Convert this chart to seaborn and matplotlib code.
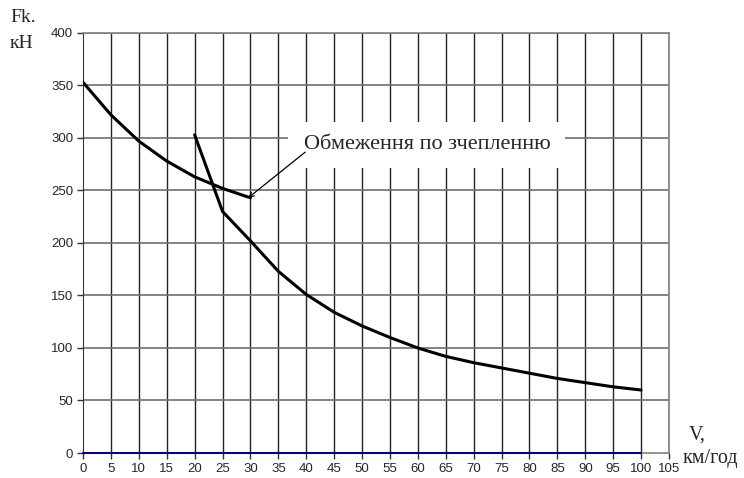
import matplotlib
matplotlib.use("Agg")
import matplotlib.pyplot as plt
from matplotlib.patches import Rectangle
import seaborn as sns
import pandas as pd

# Adhesion limit curve
v_adh = [0, 5, 10, 15, 20, 25, 30]
f_adh = [353, 322, 297, 278, 263, 252, 243]

# Traction curve
v_tr = [20, 25, 30, 35, 40, 45, 50, 55, 60, 65, 70, 75, 80, 85, 90, 95, 100]
f_tr = [303, 230, 202, 173, 151, 134, 121, 110, 100, 92, 86, 81, 76, 71, 67, 63, 60]

# Zero series
v_zero = [0, 100]
f_zero = [0, 0]

x_ticks = list(range(0, 106, 5))
y_ticks = list(range(0, 401, 50))

sns.set_style("white")
plt.rcParams['font.family'] = ['Liberation Sans', 'DejaVu Sans']

fig = plt.figure(figsize=(7.44, 4.78), dpi=100)
ax = fig.add_axes([0.1116, 0.0523, 0.7876, 0.8787])

for x in x_ticks[1:]:
    ax.axvline(x, color='#222222', lw=1.0, zorder=1)
for y in y_ticks[1:]:
    ax.axhline(y, color='#6e6e6e', lw=1.2, zorder=1)

df_adh = pd.DataFrame({'V': v_adh, 'F': f_adh})
df_tr = pd.DataFrame({'V': v_tr, 'F': f_tr})
df_zero = pd.DataFrame({'V': v_zero, 'F': f_zero})
sns.lineplot(data=df_adh, x='V', y='F', ax=ax, color='black', lw=2.2, zorder=3)
sns.lineplot(data=df_tr, x='V', y='F', ax=ax, color='black', lw=2.2, zorder=3)
sns.lineplot(data=df_zero, x='V', y='F', ax=ax, color='#000080', lw=1.5, zorder=3, clip_on=False)

ax.set_xlim(0, 105)
ax.set_ylim(0, 400)
ax.set_xticks(x_ticks)
ax.set_yticks(y_ticks)
ax.tick_params(axis='both', direction='out', length=4, width=1, color='#333333',
               labelsize=9.5, pad=3, bottom=True, left=True)
ax.set_xlabel('')
ax.set_ylabel('')
for s in ['top', 'right']:
    ax.spines[s].set_color('#808080')
    ax.spines[s].set_linewidth(1.2)
ax.spines['left'].set_color('#333333')
ax.spines['bottom'].set_color('#808080')
ax.spines['bottom'].set_linewidth(1.2)

serif = ['Liberation Serif', 'DejaVu Serif']

# white label box hiding grid
ax.add_patch(Rectangle((36.7, 271.5), 49.7, 43.5, facecolor='white',
                       edgecolor='none', zorder=2))
ax.text(39.6, 294, 'Обмеження по зчепленню', fontsize=16, family=serif,
        ha='left', va='center', zorder=5)
ax.annotate('', xy=(29.6, 243), xytext=(39.8, 286.5),
            arrowprops=dict(arrowstyle='->', color='black', lw=0.9,
                            shrinkA=0, shrinkB=0, mutation_scale=8),
            zorder=5)

fig.text(10/744, 1-17/478, 'Fk.', fontsize=14, family=serif, va='center', ha='left')
fig.text(10/744, 1-44/478, 'кН', fontsize=14, family=serif, va='center', ha='left')
fig.text(689/744, 1-435/478, 'V,', fontsize=14.5, family=serif, va='center', ha='left')
fig.text(683/744, 1-458/478, 'км/год', fontsize=14.5, family=serif, va='center', ha='left')

fig.savefig('out.png', dpi=100)
